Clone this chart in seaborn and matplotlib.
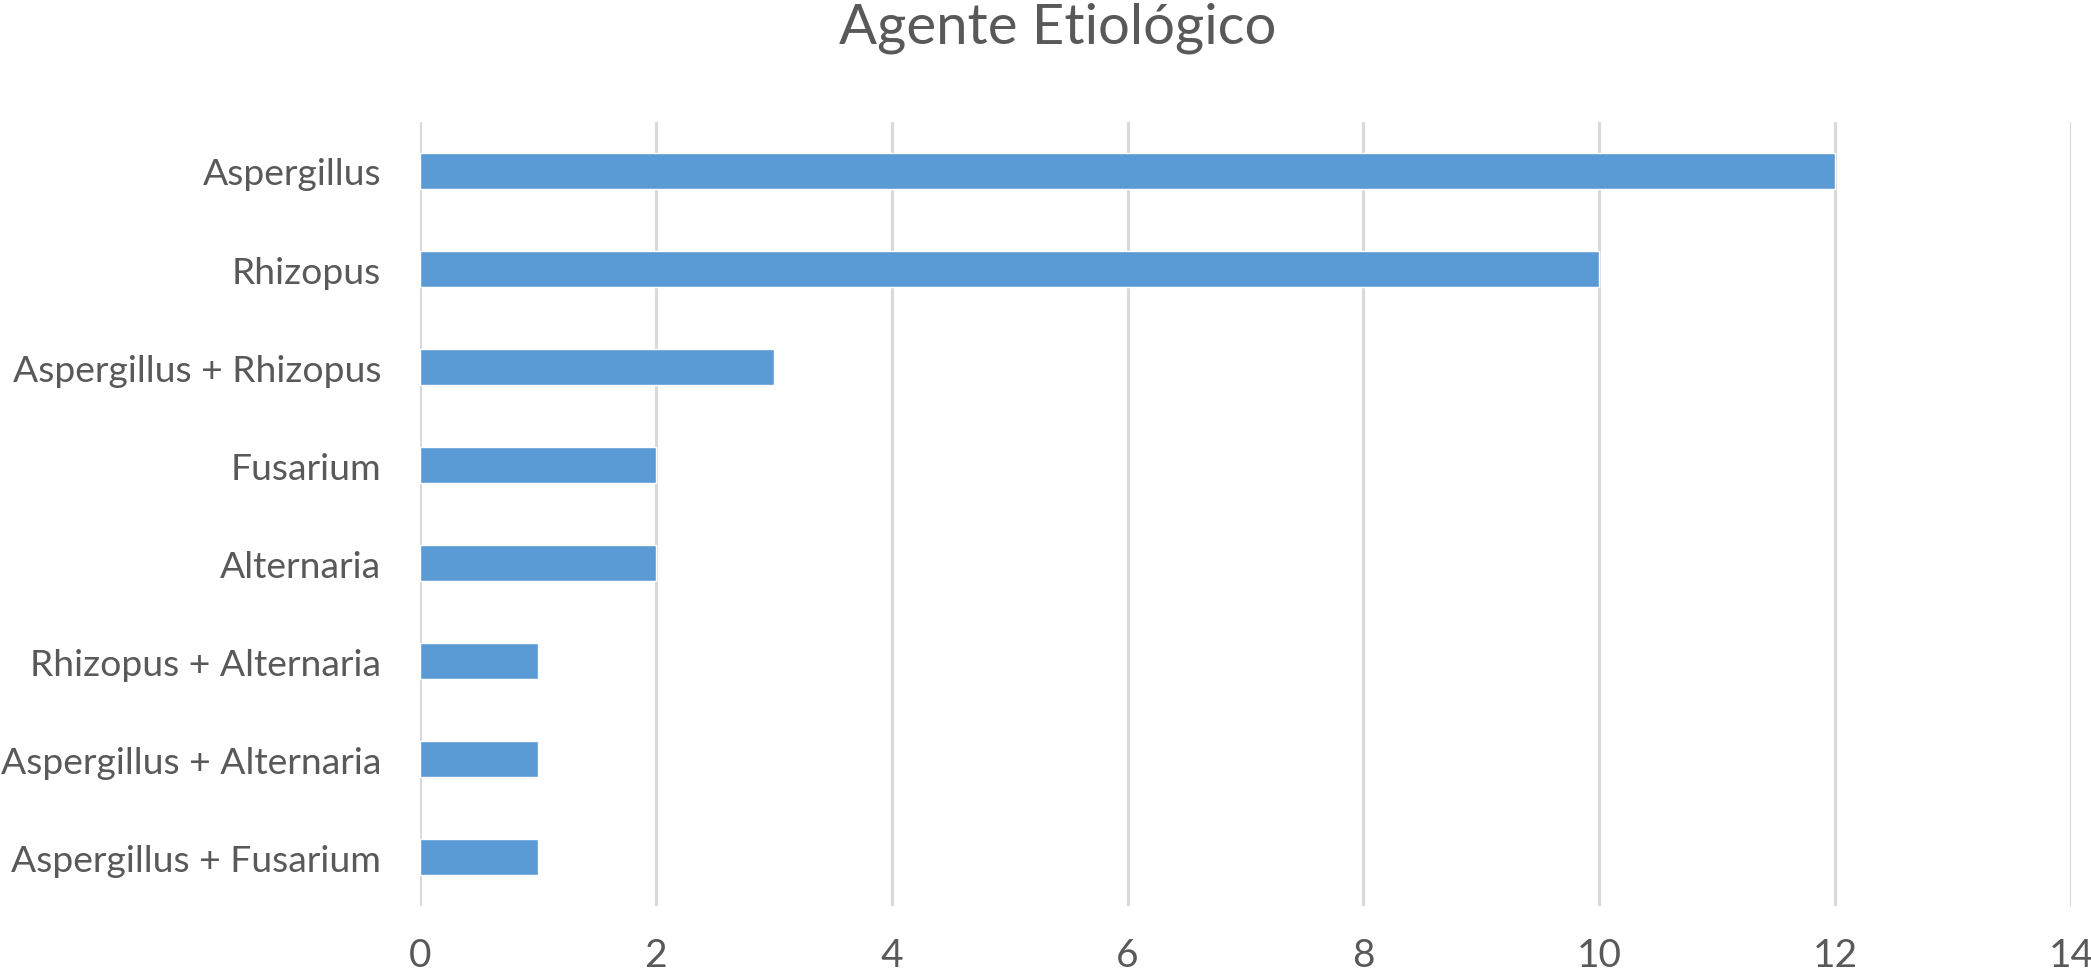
import pandas as pd
import seaborn as sns
import matplotlib.pyplot as plt

# data
agentes = ['Aspergillus', 'Rhizopus', 'Aspergillus + Rhizopus', 'Fusarium',
           'Alternaria', 'Rhizopus + Alternaria', 'Aspergillus + Alternaria',
           'Aspergillus + Fusarium']
casos = [12, 10, 3, 2, 2, 1, 1, 1]
xticks = [0, 2, 4, 6, 8, 10, 12, 14]

df = pd.DataFrame({'agente': agentes, 'casos': casos})

sns.set_theme(style='white')
plt.rcParams['font.family'] = ['Lato', 'DejaVu Sans']
gray = '#595959'

fig = plt.figure(figsize=(20.91, 9.70), dpi=100)
ax = fig.add_axes([0.2009, 0.0649, 0.7895, 0.8083])

sns.barplot(data=df, y='agente', x='casos', order=agentes, orient='h',
            color='#5B9BD5', saturation=1, width=0.36, ax=ax)

ax.set_xlim(0, 14)
ax.set_ylim(7.5, -0.5)
ax.set_xticks(xticks)
ax.xaxis.grid(True, color='#D9D9D9', linewidth=2.2)
ax.set_axisbelow(True)
sns.despine(ax=ax, left=True, bottom=True)
ax.tick_params(axis='y', length=0, labelsize=26.8, labelcolor=gray, pad=28)
ax.tick_params(axis='x', length=0, labelsize=28, labelcolor=gray, pad=22)
ax.set_xlabel('')
ax.set_ylabel('')

fig.text(0.506, 1 - 28 / 970, 'Agente Etiológico', ha='center', va='center',
         fontsize=40.5, color=gray)

fig.savefig('out.png', dpi=100)
